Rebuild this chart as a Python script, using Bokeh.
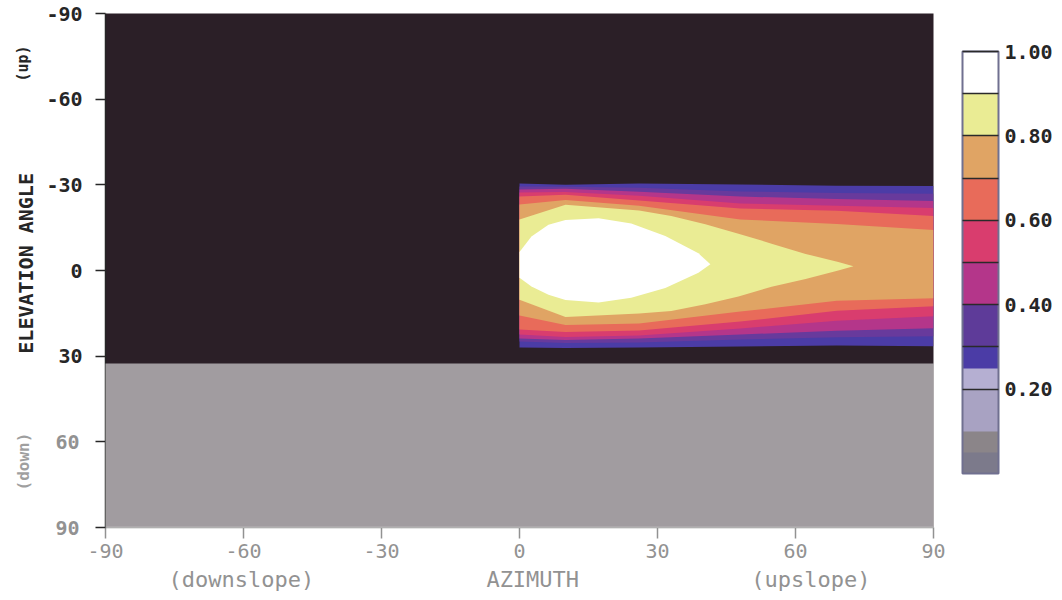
import numpy as np
from bokeh.plotting import figure
from bokeh.layouts import row
from bokeh.core.properties import value
from bokeh.models import (Range1d, FixedTicker, PrintfTickFormatter, LinearColorMapper,
                          ColorBar, BoxAnnotation, LinearAxis)
from bokeh.embed import file_html
from bokeh.resources import INLINE

# ---------------- data ----------------
X_TICKS = [-90, -60, -30, 0, 30, 60, 90]
Y_TICKS = [-90, -60, -30, 0, 30, 60, 90]
Y_TICKS_LOW = [60, 90]
CB_TICKS = [0.2, 0.4, 0.6, 0.8, 1.0]
CB_MINOR = [0.3, 0.5, 0.7, 0.9]

# band colours, 0.0-0.1 ... 0.9-1.0
PALETTE = ["#0c0810", "#3b2d76", "#4b3ca6", "#683a9c", "#b4368a",
           "#d93d6e", "#e86b5a", "#e0a464", "#eaec94", "#ffffff"]
# colour-bar swatches as printed (lower part washed out), 0.05 steps
CB_PALETTE = ["#7c7a8b", "#8b8589", "#a8a2c2", "#a9a3c3", "#b5afd2", "#4b3ca6",
              "#5e3b99", "#5e3b99", "#b4368a", "#b4368a", "#d93d6e", "#d93d6e",
              "#e86b5a", "#e86b5a", "#e0a464", "#e0a464", "#eaec94", "#eaec94",
              "#ffffff", "#ffffff"]

# contour boundaries (azimuth, elevation of upper / lower edge)
AZ_OUTER = [0, 10, 26, 48, 69, 90]
TOP_02 = [-30.5, -30.0, -30.5, -30.1, -29.7, -29.6]
BOT_02 = [27.0, 27.1, 27.0, 26.6, 26.3, 26.5]
TOP_03 = [-29.4, -29.3, -29.0, -27.7, -27.1, -26.9]
BOT_03 = [24.9, 25.4, 25.2, 24.2, 23.4, 23.0]
TOP_04 = [-28.4, -28.6, -27.6, -25.9, -25.0, -24.3]
BOT_04 = [23.8, 24.3, 23.8, 22.4, 21.1, 20.2]
TOP_05 = [-27.3, -27.5, -26.2, -23.5, -22.7, -21.9]
BOT_05 = [22.4, 23.3, 22.8, 20.3, 17.6, 16.0]
TOP_06 = [-25.9, -26.5, -24.5, -21.7, -20.9, -19.1]
BOT_06 = [20.7, 21.5, 21.0, 17.9, 14.1, 12.5]
TOP_07 = [-23.1, -24.7, -22.7, -17.9, -16.3, -14.2]
BOT_07 = [15.8, 19.1, 18.6, 14.4, 10.6, 9.7]

AZ_08 = [0, 10, 26, 33, 40.4, 47.6, 54.8, 62.2, 69.3, 72.6]
TOP_08 = [-17.9, -23.0, -21.0, -19.1, -16.2, -12.9, -9.4, -5.8, -3.0, -1.5]
BOT_08 = [10.2, 16.3, 15.1, 14.2, 11.8, 9.1, 5.7, 3.0, 0.0, -1.5]

AZ_09 = [0, 2.6, 6.3, 10, 17.2, 24.3, 31.7, 38.9, 41.5]
TOP_09 = [-6.5, -11.9, -16.0, -17.7, -18.3, -16.5, -12.1, -6.0, -2.2]
BOT_09 = [2.5, 5.6, 8.5, 10.3, 11.2, 9.5, 6.1, 0.8, -2.2]

CONTOURS = [
    (0.2, AZ_OUTER, TOP_02, BOT_02),
    (0.3, AZ_OUTER, TOP_03, BOT_03),
    (0.4, AZ_OUTER, TOP_04, BOT_04),
    (0.5, AZ_OUTER, TOP_05, BOT_05),
    (0.6, AZ_OUTER, TOP_06, BOT_06),
    (0.7, AZ_OUTER, TOP_07, BOT_07),
    (0.8, AZ_08, TOP_08, BOT_08),
    (0.9, AZ_09, TOP_09, BOT_09),
]

# ---------------- styling ----------------
MONO = "DejaVu Sans Mono"
DARK = "#262626"
GREY = "#929292"
NB = "\u00a0"
LEFT_W = 40
MAIN_W = 1062 - LEFT_W

y_range = Range1d(90, -90)

# ---------------- main plot ----------------
p = figure(width=MAIN_W, height=600, output_backend="svg", toolbar_location=None,
           x_range=Range1d(-90, 90), y_range=y_range,
           min_border_left=105 - LEFT_W, min_border_right=129, min_border_top=13,
           min_border_bottom=73)
p.background_fill_color = "#2b1f27"
p.border_fill_color = "white"
p.outline_line_color = None
p.grid.visible = False

xs, ys, cols = [], [], []
for lvl, az, top, bot in CONTOURS:
    xs.append(list(az) + list(az[::-1]))
    ys.append(list(top) + list(bot[::-1]))
    cols.append(PALETTE[int(round(lvl * 10))])
p.patches(xs, ys, fill_color=cols, line_color=None)

# x axis (washed-out part of the page)
xa = p.xaxis[0]
xa.ticker = FixedTicker(ticks=X_TICKS)
xa.formatter = PrintfTickFormatter(format="%d")
xa.minor_tick_line_color = None
xa.major_tick_in = 0
xa.major_tick_out = 11
xa.axis_line_color = GREY
xa.axis_line_width = 1.5
xa.major_tick_line_color = GREY
xa.major_tick_line_width = 1.5
xa.major_label_text_font = MONO
xa.major_label_text_font_size = "20px"
xa.major_label_text_color = GREY
xa.major_label_standoff = 5
xa.axis_label = "(downslope)" + NB * 13 + "AZIMUTH" + NB * 13 + "(upslope)"
xa.axis_label_text_font = MONO
xa.axis_label_text_font_size = "22px"
xa.axis_label_text_font_style = "normal"
xa.axis_label_text_color = GREY
xa.axis_label_standoff = 6

# y axis: upper labels dark
ya = p.yaxis[0]
ya.ticker = FixedTicker(ticks=Y_TICKS)
ya.formatter = PrintfTickFormatter(format="%d")
ya.major_label_overrides = {60: "", 90: ""}
ya.minor_tick_line_color = None
ya.major_tick_in = 0
ya.major_tick_out = 10
ya.axis_line_color = DARK
ya.axis_line_width = 1.5
ya.major_tick_line_color = DARK
ya.major_tick_line_width = 1.5
ya.major_label_text_font = MONO
ya.major_label_text_font_size = "20px"
ya.major_label_text_font_style = "bold"
ya.major_label_text_color = DARK
ya.major_label_standoff = 13

# lower (washed-out) y labels, pulled back onto the same column
yb = LinearAxis(ticker=FixedTicker(ticks=Y_TICKS_LOW),
                formatter=PrintfTickFormatter(format="%d"),
                axis_line_color=None, major_tick_line_color=None,
                minor_tick_line_color=None, major_tick_in=0, major_tick_out=0,
                major_label_standoff=-36, major_label_text_font=MONO,
                major_label_text_font_size="20px", major_label_text_font_style="bold",
                major_label_text_color=GREY)
p.add_layout(yb, "left")

# colour bar
mapper = LinearColorMapper(palette=CB_PALETTE, low=0, high=1)
cb = ColorBar(color_mapper=mapper, width=36, height=422, location=(29, 54),
              padding=0, margin=0,
              ticker=FixedTicker(ticks=CB_TICKS, minor_ticks=CB_MINOR),
              formatter=PrintfTickFormatter(format="%.2f"),
              major_tick_in=36, major_tick_out=0, minor_tick_in=36, minor_tick_out=0,
              major_tick_line_color="#2a2a2a", major_tick_line_width=1.5,
              minor_tick_line_color="#2a2a2a", minor_tick_line_width=1.5,
              bar_line_color="#707090", bar_line_width=2,
              label_standoff=6, major_label_text_font=MONO,
              major_label_text_font_size="20px", major_label_text_font_style="bold",
              major_label_text_color=DARK, background_fill_alpha=0)
p.add_layout(cb, "right")

# washed-out lower part of the scanned page
p.add_layout(BoxAnnotation(left=0, right=MAIN_W, top=363, bottom=600,
                           left_units="canvas", right_units="canvas",
                           top_units="canvas", bottom_units="canvas",
                           fill_color="white", fill_alpha=0.56, line_color=None,
                           level="overlay"))

# ---------------- left strip with the vertical titles ----------------
q = figure(width=LEFT_W, height=600, output_backend="svg", toolbar_location=None,
           x_range=Range1d(0, LEFT_W), y_range=y_range,
           x_axis_location=None, y_axis_location=None,
           min_border_left=0, min_border_right=0, min_border_top=13,
           min_border_bottom=73)
q.outline_line_color = None
q.grid.visible = False
q.background_fill_color = "white"
q.border_fill_color = "white"
q.text(x=[25], y=[-2.5], text=["ELEVATION ANGLE"], angle=np.pi / 2,
       text_align="center", text_baseline="middle", text_font=value(MONO),
       text_font_size="20px", text_font_style="bold", text_color=DARK)
q.text(x=[22], y=[-72.5], text=["(up)"], angle=np.pi / 2,
       text_align="center", text_baseline="middle", text_font=value(MONO),
       text_font_size="15px", text_font_style="bold", text_color=DARK)
q.text(x=[23], y=[66.9], text=["(down)"], angle=np.pi / 2,
       text_align="center", text_baseline="middle", text_font=value(MONO),
       text_font_size="16px", text_font_style="bold", text_color=DARK)
q.add_layout(BoxAnnotation(left=0, right=LEFT_W, top=363, bottom=600,
                           left_units="canvas", right_units="canvas",
                           top_units="canvas", bottom_units="canvas",
                           fill_color="white", fill_alpha=0.56, line_color=None,
                           level="overlay"))

layout = row(q, p)
open("out.html", "w").write(file_html(layout, INLINE))
